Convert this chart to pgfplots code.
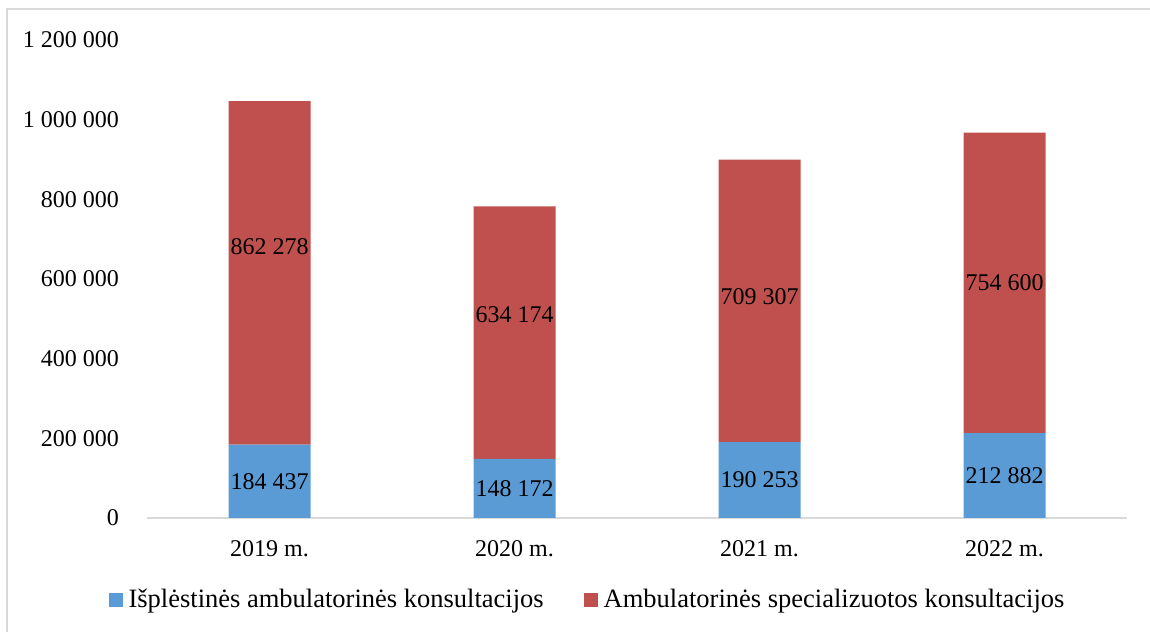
\documentclass[border=0pt]{standalone}
\usepackage{pgfplots}
\pgfplotsset{compat=1.18}
\usepackage{fontspec}
\setmainfont{Liberation Serif}
\definecolor{cblue}{HTML}{5B9BD5}
\definecolor{cred}{HTML}{C0504D}
\definecolor{cgrid}{HTML}{D9D9D9}
\begin{document}
\fontsize{24bp}{28bp}\selectfont
\begin{tikzpicture}
\useasboundingbox (0,0) rectangle (1150bp,632bp);
\draw[cgrid, line width=1.5bp] (7bp,-5bp) -- (7bp,623bp) -- (1160bp,623bp);
\begin{axis}[
  at={(147bp,114bp)}, anchor=south west,
  scale only axis, width=980bp, height=478bp,
  ybar stacked, bar width=82bp,
  xmin=-0.5, xmax=3.5, ymin=0, ymax=1200000,
  xtick={0,1,2,3},
  xticklabels={2019 m., 2020 m., 2021 m., 2022 m.},
  ytick={0,200000,400000,600000,800000,1000000,1200000},
  scaled y ticks=false,
  /pgf/number format/fixed,
  /pgf/number format/1000 sep={\ },
  /pgf/number format/assume math mode=true,
  yticklabel style={xshift=-20bp},
  xticklabel style={yshift=-14bp},
  axis x line*=bottom, axis y line*=left,
  y axis line style={draw=none},
  x axis line style={draw=cgrid, line width=1.2bp, -},
  major tick length=0pt,
  tick style={draw=none},
  legend style={at={(0.4495,-0.1715)}, anchor=center, draw=none, fill=none,
    legend columns=2, font=\fontsize{26.5bp}{30bp}\selectfont,
    /tikz/every even column/.append style={column sep=38bp}},
  legend cell align=left,
  after end axis/.code={
    \node at (axis cs:0,92218) {184 437};
    \node at (axis cs:1,74086) {148 172};
    \node at (axis cs:2,95127) {190 253};
    \node at (axis cs:3,106441) {212 882};
    \node at (axis cs:0,680300) {862 278};
    \node at (axis cs:1,509600) {634 174};
    \node at (axis cs:2,554800) {709 307};
    \node at (axis cs:3,590000) {754 600};
  },
]
\addplot[fill=cblue, draw=none, legend image code/.code={\fill[cblue] (-3bp,-7bp) rectangle (11bp,7bp); \path (15bp,0bp);}]
  coordinates {(0,184437) (1,148172) (2,190253) (3,212882)};
\addlegendentry{Išplėstinės ambulatorinės konsultacijos}
\addplot[fill=cred, draw=none, legend image code/.code={\fill[cred] (-3bp,-7bp) rectangle (11bp,7bp); \path (15bp,0bp);}]
  coordinates {(0,862278) (1,634174) (2,709307) (3,754600)};
\addlegendentry{Ambulatorinės specializuotos konsultacijos}
\end{axis}
\end{tikzpicture}
\end{document}
